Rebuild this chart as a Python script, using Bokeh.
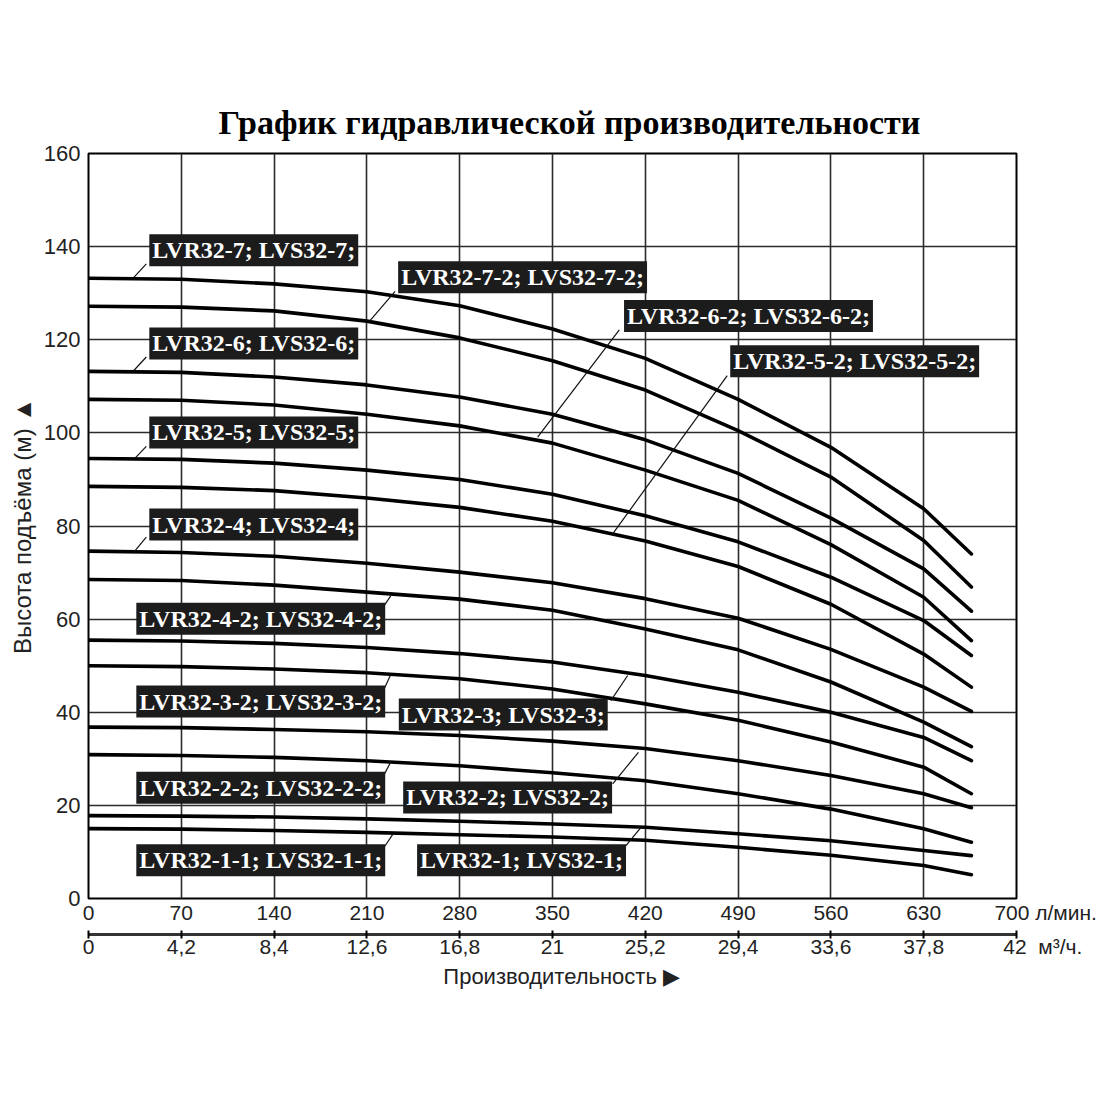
from bokeh.plotting import figure
from bokeh.models import Range1d, LinearAxis, FixedTicker, Label
from bokeh.embed import file_html
from bokeh.resources import INLINE

# ---------------- data ----------------
flow_lpm = [0, 70, 140, 210, 280, 350, 420, 490, 560, 630, 666]

lpm_ticks = [0, 70, 140, 210, 280, 350, 420, 490, 560, 630, 700]
lpm_labels = ["0", "70", "140", "210", "280", "350", "420", "490", "560", "630", "700"]
m3h_labels = ["0", "4,2", "8,4", "12,6", "16,8", "21", "25,2", "29,4", "33,6", "37,8", "42"]
head_ticks = [0, 20, 40, 60, 80, 100, 120, 140, 160]

head_lvr32_7   = [133.2, 133.0, 132.0, 130.3, 127.3, 122.3, 116.0, 107.2, 96.9, 83.7, 74.0]
head_lvr32_7_2 = [127.2, 127.0, 126.2, 124.0, 120.4, 115.5, 109.2, 100.5, 90.5, 76.9, 66.9]
head_lvr32_6   = [113.2, 113.0, 112.0, 110.3, 107.7, 104.0, 98.5, 91.3, 81.7, 70.8, 61.7]
head_lvr32_6_2 = [107.2, 107.0, 106.0, 104.0, 101.5, 97.8, 92.0, 85.5, 76.0, 64.7, 55.4]
head_lvr32_5   = [94.5, 94.3, 93.5, 92.0, 90.0, 86.8, 82.2, 76.6, 69.0, 59.7, 52.2]
head_lvr32_5_2 = [88.5, 88.3, 87.6, 86.0, 84.0, 81.0, 76.8, 71.3, 63.2, 52.5, 45.4]
head_lvr32_4   = [74.6, 74.3, 73.5, 72.0, 70.1, 67.8, 64.4, 60.2, 53.5, 45.4, 40.2]
head_lvr32_4_2 = [68.5, 68.3, 67.3, 65.8, 64.3, 61.9, 57.9, 53.4, 46.5, 37.9, 32.6]
head_lvr32_3   = [55.5, 55.3, 54.8, 53.9, 52.6, 50.8, 47.9, 44.3, 40.0, 34.6, 29.6]
head_lvr32_3_2 = [50.0, 49.8, 49.3, 48.5, 47.2, 45.0, 41.8, 38.3, 33.6, 28.2, 22.5]
head_lvr32_2   = [36.8, 36.7, 36.3, 35.8, 35.0, 33.8, 32.2, 29.6, 26.4, 22.5, 19.5]
head_lvr32_2_2 = [30.9, 30.7, 30.3, 29.6, 28.5, 27.0, 25.3, 22.5, 19.2, 15.0, 12.1]
head_lvr32_1   = [17.8, 17.7, 17.5, 17.1, 16.6, 16.0, 15.3, 13.9, 12.4, 10.3, 9.2]
head_lvr32_1_1 = [15.0, 14.9, 14.6, 14.2, 13.7, 13.2, 12.5, 11.0, 9.3, 7.1, 5.1]

model_names = ["LVR32-7; LVS32-7;", "LVR32-7-2; LVS32-7-2;", "LVR32-6; LVS32-6;",
               "LVR32-6-2; LVS32-6-2;", "LVR32-5; LVS32-5;", "LVR32-5-2; LVS32-5-2;",
               "LVR32-4; LVS32-4;", "LVR32-4-2; LVS32-4-2;", "LVR32-3; LVS32-3;",
               "LVR32-3-2; LVS32-3-2;", "LVR32-2; LVS32-2;", "LVR32-2-2; LVS32-2-2;",
               "LVR32-1; LVS32-1;", "LVR32-1-1; LVS32-1-1;"]
curves = [head_lvr32_7, head_lvr32_7_2, head_lvr32_6, head_lvr32_6_2, head_lvr32_5,
          head_lvr32_5_2, head_lvr32_4, head_lvr32_4_2, head_lvr32_3, head_lvr32_3_2,
          head_lvr32_2, head_lvr32_2_2, head_lvr32_1, head_lvr32_1_1]

title_text = "График гидравлической производительности"
y_title = "Высота подъёма (м) ▲"
x_title = "Производительность ▶"
unit_lpm = "л/мин."
unit_m3h = "м³/ч."

NB = "\u00a0"

# ---------------- layout (annotation placement) ----------------
label_pos = [(43.6, 139.2), (231.3, 133.4), (43.6, 119.2), (401.7, 125.1),
             (43.6, 100.1), (481.8, 115.4), (43.6, 80.3), (33.8, 60.1),
             (231.8, 39.5), (33.8, 42.3), (235.1, 21.7), (33.8, 23.8),
             (245.6, 8.2), (33.8, 8.2)]
leaders = [(43.6, 136.3, 34.2, 133.4), (231.3, 130.4, 211.7, 123.9),
           (43.6, 116.3, 34.2, 113.4), (400.4, 122.1, 338.8, 99.1),
           (43.6, 97.1, 35.5, 94.7), (481.8, 112.3, 395.4, 78.3),
           (43.6, 77.6, 34.2, 74.4), (223.0, 62.9, 228.0, 65.0),
           (394.0, 42.5, 406.7, 47.9), (223.0, 45.0, 228.0, 48.1),
           (395.4, 24.6, 414.8, 31.4), (223.0, 26.6, 228.0, 29.3),
           (404.3, 11.0, 416.8, 15.3), (223.0, 11.0, 230.0, 14.0)]

SANS = "Liberation Sans"
SERIF = "Liberation Serif"
INK = "#222222"

p = figure(width=1100, height=1084, x_range=Range1d(0, 700), y_range=Range1d(0, 160),
           output_backend="svg", toolbar_location=None,
           min_border_left=88, min_border_right=84, min_border_top=153, min_border_bottom=186)
p.background_fill_color = "white"
p.border_fill_color = "white"
p.outline_line_color = "black"
p.outline_line_width = 2

p.title.text = NB * 4 + title_text
p.title.text_font = SERIF
p.title.text_font_style = "bold"
p.title.text_font_size = "34px"
p.title.text_color = "black"
p.title.align = "center"
p.title.standoff = 25

# grids
p.xgrid.ticker = FixedTicker(ticks=lpm_ticks)
p.ygrid.ticker = FixedTicker(ticks=head_ticks)
for g in (p.xgrid, p.ygrid):
    g.grid_line_color = "#2b2b2b"
    g.grid_line_width = 1.6

# left axis
ya = p.yaxis[0]
ya.ticker = FixedTicker(ticks=head_ticks)
ya.axis_line_color = None
ya.major_tick_in = 0
ya.major_tick_out = 0
ya.minor_tick_out = 0
ya.minor_tick_in = 0
ya.major_label_standoff = 8
ya.major_label_text_font = SANS
ya.major_label_text_font_size = "22px"
ya.major_label_text_color = INK
ya.axis_label = y_title
ya.axis_label_text_font = SANS
ya.axis_label_text_font_style = "normal"
ya.axis_label_text_font_size = "24px"
ya.axis_label_text_color = INK
ya.axis_label_standoff = 5

# bottom axis 1 (l/min) - unit text follows the last tick label
lpm_text = list(lpm_labels)
lpm_text[-1] = NB * 10 + lpm_labels[-1] + " " + unit_lpm
xa = p.xaxis[0]
xa.ticker = FixedTicker(ticks=lpm_ticks)
xa.major_label_overrides = dict(zip(lpm_ticks, lpm_text))
xa.axis_line_color = None
xa.major_tick_in = 0
xa.major_tick_out = 0
xa.minor_tick_in = 0
xa.minor_tick_out = 0
xa.major_label_standoff = 2
xa.major_label_text_font = SANS
xa.major_label_text_font_size = "21px"
xa.major_label_text_color = INK
xa.axis_label = NB
xa.axis_label_text_font_size = "4px"
xa.axis_label_standoff = 0

# bottom axis 2 (m3/h)
m3h_text = list(m3h_labels)
m3h_text[-1] = NB * 9 + m3h_labels[-1] + NB + NB + unit_m3h
xb = LinearAxis(ticker=FixedTicker(ticks=lpm_ticks),
                major_label_overrides=dict(zip(lpm_ticks, m3h_text)))
xb.axis_line_color = "#333333"
xb.axis_line_width = 3
xb.major_tick_in = 4
xb.major_tick_out = 4
xb.major_tick_line_width = 2
xb.minor_tick_in = 0
xb.minor_tick_out = 0
xb.major_label_standoff = -4
xb.major_label_text_font = SANS
xb.major_label_text_font_size = "21px"
xb.major_label_text_color = INK
xb.axis_label = NB * 3 + x_title
xb.axis_label_text_font = SANS
xb.axis_label_text_font_style = "normal"
xb.axis_label_text_font_size = "22px"
xb.axis_label_text_color = INK
xb.axis_label_standoff = 3
p.add_layout(xb, "below")

# curves
for h in curves:
    p.line(flow_lpm, h, line_color="black", line_width=3.6, line_cap="round", line_join="round")

# leaders
p.segment(x0=[l[0] for l in leaders], y0=[l[1] for l in leaders],
          x1=[l[2] for l in leaders], y1=[l[3] for l in leaders],
          line_color="#111111", line_width=1.2)

# model labels
for name, (lx, ly) in zip(model_names, label_pos):
    p.add_layout(Label(x=lx, y=ly, x_offset=3, text=name, text_font=SERIF,
                       text_font_style="bold", text_font_size="24px", text_color="white",
                       text_baseline="middle", text_align="left",
                       background_fill_color="#1c1c1c", background_fill_alpha=1.0,
                       padding=3))

open("out.html", "w").write(file_html(p, INLINE))
